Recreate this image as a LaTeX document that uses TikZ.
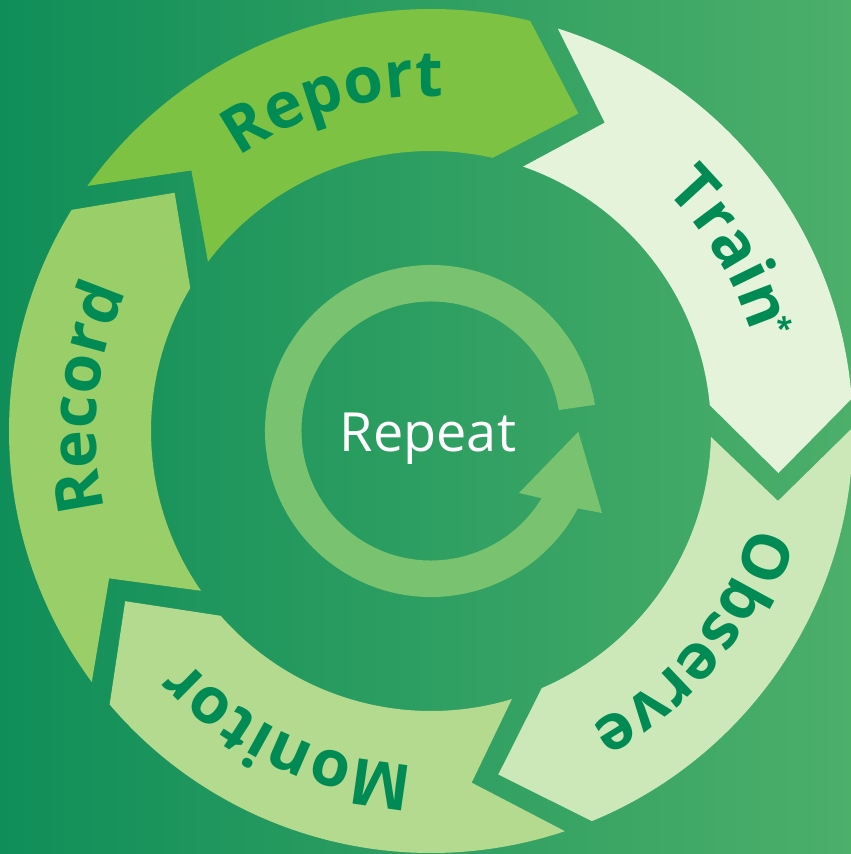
\documentclass[tikz,border=0pt]{standalone}
\usepackage{fontspec}
\setmainfont{Open Sans}
\usetikzlibrary{decorations.text}
\definecolor{bgL}{RGB}{16,142,89}
\definecolor{bgR}{RGB}{76,175,106}
\definecolor{cReport}{RGB}{125,194,66}
\definecolor{cTrain}{RGB}{229,243,218}
\definecolor{cObserve}{RGB}{205,232,184}
\definecolor{cMonitor}{RGB}{179,218,143}
\definecolor{cRecord}{RGB}{153,206,104}
\definecolor{cRing}{RGB}{120,194,112}
\definecolor{cText}{RGB}{0,139,85}
\newcommand{\seglabelfont}{\fontsize{64}{64}\selectfont\bfseries}
\tikzset{
  segtext/.style={decoration={text along path, text={|\seglabelfont|#1}, text align=center, text color=cText}, decorate},
  segfill/.style={fill=#1, draw=none},
}
\begin{document}
\begin{tikzpicture}[x=1pt,y=1pt]
\useasboundingbox (-431,-423) rectangle (420,431);
\clip (-431,-423) rectangle (420,431);
\shade[left color=bgL, right color=bgR] (-431,-423) rectangle (420,431);
% ring segments
\foreach \H/\col in {76.4/cReport, 4.4/cTrain, -67.6/cObserve, -139.6/cMonitor, -211.6/cRecord} {
  \path[segfill=\col] ({\H+68.1}:422) arc[start angle={\H+68.1}, end angle={\H}, radius=422]
     -- ({\H-11.3}:350) -- ({\H+0.9}:280)
     arc[start angle={\H+0.9}, end angle={\H+66.4}, radius=280]
     -- ({\H+56.2}:354) -- cycle;
}
% labels along the ring
\path[segtext=Report] (156.5:335) arc[start angle=156.5, end angle=56.5, radius=335];
\path[segtext=Train] (81.5:335) arc[start angle=81.5, end angle=-18.5, radius=335];
\path[segtext=Observe] (11:335) arc[start angle=11, end angle=-89, radius=335];
\path[segtext=Monitor] (-65:335) arc[start angle=-65, end angle=-165, radius=335];
\path[segtext=Record] (224.5:335) arc[start angle=224.5, end angle=124.5, radius=335];
\node[font=\fontsize{30}{30}\selectfont\bfseries, text=cText, rotate=-73, inner sep=0pt] (ast) at (350,106) {*};
% central repeat arrow
\fill[cRing] (9.3:129.5) -- (9.1:166) arc[start angle=9.1, end angle=332.2, radius=166]
  -- (171,-82) -- (147.3,-0.7) -- (88,-62) -- (328.7:129.5)
  arc[start angle=328.7, end angle=9.3, radius=129.5] -- cycle;
\node[font=\fontsize{54}{54}\selectfont, text=white, anchor=base, inner sep=0pt] (repeat) at (-3,-20) {Repeat};
\end{tikzpicture}
\end{document}
